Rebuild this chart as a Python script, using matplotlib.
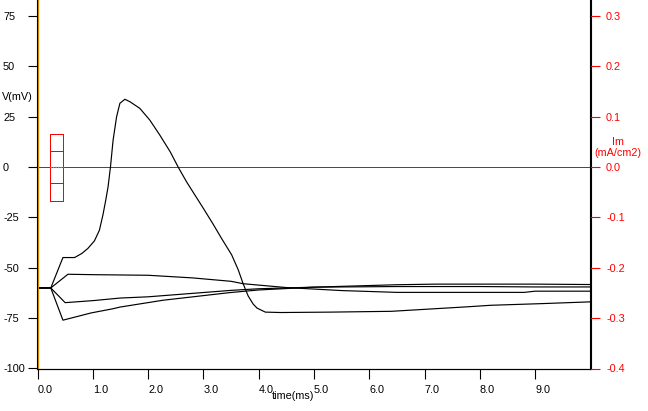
import matplotlib
matplotlib.use("Agg")
import matplotlib.pyplot as plt
from matplotlib.patches import Rectangle

plt.rcParams['font.family'] = ['Liberation Sans', 'DejaVu Sans']

# ---- data ----
spike_t = [0, 0.24, 0.46, 0.67, 0.8, 0.91, 1.03, 1.12, 1.185, 1.234, 1.276, 1.319, 1.367,
           1.43, 1.49, 1.58, 1.67, 1.85, 2.03, 2.21, 2.40, 2.55, 2.70, 2.85, 3.0, 3.18,
           3.33, 3.51, 3.63, 3.72, 3.81, 3.90, 3.97, 4.12, 4.4, 5.3, 6.4, 7.75, 8.2, 9.1, 10.0]
spike_v = [-60, -60, -44.9, -44.9, -42.9, -40.4, -36.6, -31.3, -23.5, -16.4, -9.8, 0, 13.4,
           25, 31.7, 33.7, 32.5, 29.2, 23.4, 16, 7.6, -0.3, -7.5, -14, -20.5, -28.5,
           -35.5, -43.5, -51, -58, -64, -68, -70, -72, -72.2, -72.0, -71.6, -69.4, -68.6, -67.8, -66.9]

trace2_t = [0, 0.24, 0.55, 1.0, 2.0, 2.8, 3.5, 3.72, 4.5, 5.5, 6.5, 8.0, 8.8, 9.0, 10.0]
trace2_v = [-60, -60, -53.2, -53.4, -53.7, -55.0, -56.7, -57.9, -59.8, -61.3, -62.2, -62.2, -62.2, -61.6, -61.6]

trace3_t = [0, 0.24, 0.5, 1.0, 1.5, 2.0, 3.5, 4.0, 5.0, 6.5, 8.0, 9.0, 10.0]
trace3_v = [-60, -60, -67.3, -66.3, -65.0, -64.4, -61.2, -60.4, -59.6, -59.3, -59.3, -59.5, -59.5]

trace4_t = [0, 0.24, 0.46, 0.97, 1.37, 1.49, 2.27, 3.48, 4.0, 5.0, 6.5, 7.2, 9.0, 10.0]
trace4_v = [-60, -60, -76, -72.4, -70.3, -69.5, -66.1, -62.3, -61.0, -59.6, -58.4, -58.1, -58.1, -58.3]

x_ticks = [0, 1, 2, 3, 4, 5, 6, 7, 8, 9]
x_labels = ["0.0", "1.0", "2.0", "3.0", "4.0", "5.0", "6.0", "7.0", "8.0", "9.0"]
v_ticks = [75, 50, 25, 0, -25, -50, -75, -100]
v_labels = ["75", "50", "25", "0", "-25", "-50", "-75", "-100"]
i_ticks = [0.3, 0.2, 0.1, 0.0, -0.1, -0.2, -0.3, -0.4]
i_labels = ["0.3", "0.2", "0.1", "0.0", "-0.1", "-0.2", "-0.3", "-0.4"]

box_t = [0.223, 0.466]
box_v = [-16.7, -7.7, 7.8, 16.7]

# ---- figure ----
W, H = 648, 411
fig = plt.figure(figsize=(W / 100, H / 100), dpi=100)
ax = fig.add_axes([37.5 / W, 1 - 368.5 / H, (590.5 - 37.5) / W, 368.5 / H])
ax.set_xlim(0, 10)
ax.set_ylim(-100, 83)
ax2 = ax.twinx()
ax2.set_ylim(-0.4, 83 / 250.0)

for a in (ax, ax2):
    a.spines['top'].set_visible(False)
    for s in a.spines.values():
        s.set_linewidth(0.8)
        s.set_color('black')

fs = 7.8
ax.set_xticks(x_ticks)
ax.set_xticklabels(x_labels)
ax.tick_params(axis='x', direction='out', length=7.2, width=0.8, pad=4.5, labelsize=fs)
for lbl in ax.get_xticklabels():
    lbl.set_ha('left')
ax.set_yticks(v_ticks)
ax.set_yticklabels(v_labels)
ax.tick_params(axis='y', direction='out', length=7.2, width=0.8, pad=17.6, labelsize=fs)
for lbl in ax.get_yticklabels():
    lbl.set_ha('left')

ax2.set_yticks(i_ticks)
ax2.set_yticklabels(i_labels)
ax2.tick_params(axis='y', direction='out', length=7.2, width=0.8, pad=4.0,
                labelsize=fs, colors='red')

# zero line and left marker
ax.axhline(0, color='red', lw=0.5, zorder=1, antialiased=False)
ax.axvline(0.014, color='#FFA500', lw=1.2, zorder=3)

# stimulus box
ax.add_patch(Rectangle((box_t[0], box_v[0]), box_t[1] - box_t[0], box_v[-1] - box_v[0],
                       fill=False, ec='red', lw=0.5, zorder=4, antialiased=False))
for v in box_v[1:3]:
    ax.plot(box_t, [v, v], color='red', lw=0.5, zorder=4, antialiased=False)
ax.plot(box_t, [0, 0], color='#999999', lw=0.9, ls=(0, (1, 1)), zorder=5)

# traces
for tt, vv in [(spike_t, spike_v), (trace2_t, trace2_v), (trace3_t, trace3_v), (trace4_t, trace4_v)]:
    ax.plot(tt, vv, color='black', lw=0.85, zorder=2)

# labels
fig.text(2 / W, 1 - 97 / H, "V(mV)", ha='left', va='center', fontsize=fs)
fig.text(618 / W, 1 - 142 / H, "Im", ha='center', va='center', fontsize=fs, color='red')
fig.text(618 / W, 1 - 153.5 / H, "(mA/cm2)", ha='center', va='center', fontsize=fs, color='red')
fig.text(272 / W, 1 - 396 / H, "time(ms)", ha='left', va='center', fontsize=fs)

fig.savefig("out.png", dpi=100)
